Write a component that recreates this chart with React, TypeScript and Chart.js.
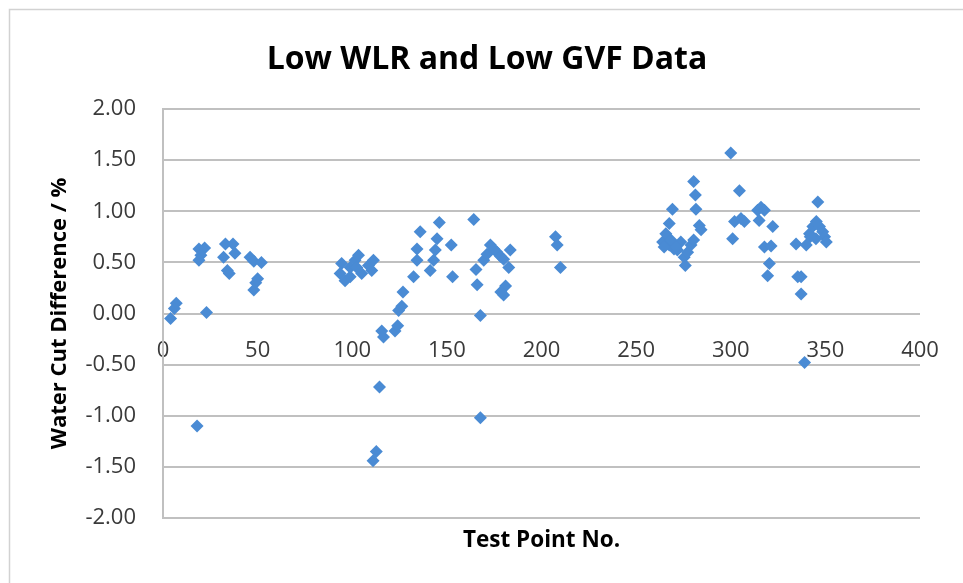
import React, { useEffect, useRef } from "react";
import { Chart, registerables } from "chart.js";

Chart.register(...registerables);

const chartTitle = "Low WLR and Low GVF Data";
const xAxisTitle = "Test Point No.";
const yAxisTitle = "Water Cut Difference / %";

const xMin = 0;
const xMax = 400;
const xStep = 50;
const yMin = -2;
const yMax = 2;
const yStep = 0.5;

const testPoint = [
  4, 6, 7, 18, 19, 22, 20, 19, 23, 33, 37, 38, 32, 34, 35, 46, 48, 52, 50, 49, 48,
  94.4, 93.6, 96.2, 98.9, 98.9, 101.5, 103.3, 102.4, 105, 108.6, 111.2, 110.3,
  115.6, 116.5, 122.6, 124, 124.5, 126.2, 126.8, 132.4, 134.2, 134.2, 135.9,
  141.2, 143, 143.9, 144.8, 146, 152.3, 153, 164.2, 165.4, 166, 167.7, 169.5,
  171.2, 173, 174.8, 176.5, 178.3, 180, 182.7, 183.5, 181, 180, 178.5, 167.7,
  114.4, 112.7, 111, 207.4, 208.3, 210,
  264, 265.7, 267.5, 269.2, 267.5, 270, 271.8, 273.6, 275.4, 276, 277.2, 279,
  280.4, 280.4, 281.3, 281.6, 283.4, 284.3, 264.8, 268.4, 271,
  300, 304.6, 302, 305.4, 307.2, 301, 314.2, 316, 317.8, 315, 322.2, 317.8,
  321.3, 320.4, 319.5, 334.5, 335.4, 337.2, 337.2, 339, 339.9, 341.6, 343.4,
  345.2, 346, 346.9, 348.6, 349.6, 350.5, 345, 342,
];

const waterCutDiff = [
  -0.05, 0.05, 0.1, -1.1, 0.63, 0.64, 0.57, 0.52, 0.01, 0.68, 0.68, 0.59, 0.55, 0.42, 0.39, 0.55, 0.51, 0.5, 0.34, 0.3, 0.23,
  0.49, 0.39, 0.32, 0.36, 0.45, 0.52, 0.57, 0.45, 0.39, 0.47, 0.52, 0.42,
  -0.17, -0.23, -0.17, -0.12, 0.03, 0.07, 0.21, 0.36, 0.52, 0.63, 0.8,
  0.42, 0.52, 0.62, 0.73, 0.89, 0.67, 0.36, 0.92, 0.43, 0.28, -0.02, 0.52,
  0.58, 0.67, 0.63, 0.6, 0.56, 0.53, 0.45, 0.62, 0.27, 0.18, 0.21, -1.02,
  -0.72, -1.35, -1.44, 0.75, 0.67, 0.45,
  0.7, 0.78, 0.88, 1.02, 0.67, 0.63, 0.62, 0.7, 0.55, 0.47, 0.6, 0.67,
  0.72, 1.29, 1.16, 1.02, 0.86, 0.82, 0.65, 0.72, 0.65,
  1.57, 1.2, 0.9, 0.93, 0.9, 0.73, 1.01, 1.04, 1.01, 0.91, 0.85, 0.65,
  0.66, 0.49, 0.37, 0.68, 0.36, 0.36, 0.19, -0.48, 0.67, 0.78, 0.85,
  0.9, 1.09, 0.85, 0.8, 0.75, 0.7, 0.73, 0.75,
];

const FONT = "'Open Sans', Lato, sans-serif";

export default function App() {
  const ref = useRef<HTMLCanvasElement>(null);

  useEffect(() => {
    document.body.style.margin = "0";
    const canvas = ref.current;
    if (!canvas) return;

    const framePlugin = {
      id: "frame",
      beforeDraw(chart: any) {
        const c = chart.ctx;
        c.save();
        c.strokeStyle = "#d2d2d2";
        c.lineWidth = 1.5;
        c.beginPath();
        c.moveTo(9.5, 583);
        c.lineTo(9.5, 9.5);
        c.lineTo(963, 9.5);
        c.stroke();
        c.restore();
      },
    };

    const titlesPlugin = {
      id: "titles",
      afterDraw(chart: any) {
        const c = chart.ctx;
        const area = chart.chartArea;
        c.save();
        c.fillStyle = "#000";
        c.textAlign = "center";
        c.textBaseline = "middle";
        c.font = `bold 32px ${FONT}`;
        c.fillText(chartTitle, 487, 60);
        c.font = `bold 22.5px ${FONT}`;
        c.fillText(xAxisTitle, (area.left + area.right) / 2, 541);
        c.restore();
      },
    };

    const chart = new Chart(canvas, {
      type: "scatter",
      data: {
        datasets: [
          {
            data: testPoint.map((x, i) => ({ x, y: waterCutDiff[i] })),
            pointStyle: "rectRot",
            pointRadius: 6.5,
            pointHoverRadius: 6.5,
            backgroundColor: "#4a8bd4",
            borderColor: "#4a8bd4",
            borderWidth: 0,
          },
        ],
      },
      options: {
        animation: false,
        responsive: false,
        layout: { padding: { left: 9, right: 43, top: 109, bottom: 65 } },
        plugins: {
          legend: { display: false },
          tooltip: { enabled: false },
          title: { display: false },
        },
        scales: {
          x: {
            type: "linear",
            position: { y: 0 },
            min: xMin,
            max: xMax,
            ticks: {
              stepSize: xStep,
              padding: 24,
              color: "#3a3a3a",
              font: { family: FONT, size: 22 },
              maxRotation: 0,
            },
            grid: { display: false, drawTicks: false },
            border: { display: false },
            afterFit: (s: any) => {
              s.height = 0;
            },
          },
          y: {
            type: "linear",
            min: yMin,
            max: yMax,
            ticks: {
              stepSize: yStep,
              padding: 27,
              color: "#3a3a3a",
              font: { family: FONT, size: 22 },
              callback: (v: any) => Number(v).toFixed(2),
            },
            grid: { color: "#c0c0c0", lineWidth: 2, drawTicks: false },
            border: { display: true, color: "#c0c0c0", width: 2 },
            title: {
              display: true,
              text: yAxisTitle,
              color: "#000",
              font: { family: FONT, size: 22, weight: "bold" },
              padding: { top: 38, bottom: 0 },
            },
            afterFit: (s: any) => {
              s.width = 154;
            },
          },
        },
      } as any,
      plugins: [framePlugin, titlesPlugin],
    });

    return () => chart.destroy();
  }, []);

  return (
    <div style={{ position: "relative", width: 963, height: 583 }}>
      <canvas ref={ref} width={963} height={583} style={{ display: "block" }} />
    </div>
  );
}
